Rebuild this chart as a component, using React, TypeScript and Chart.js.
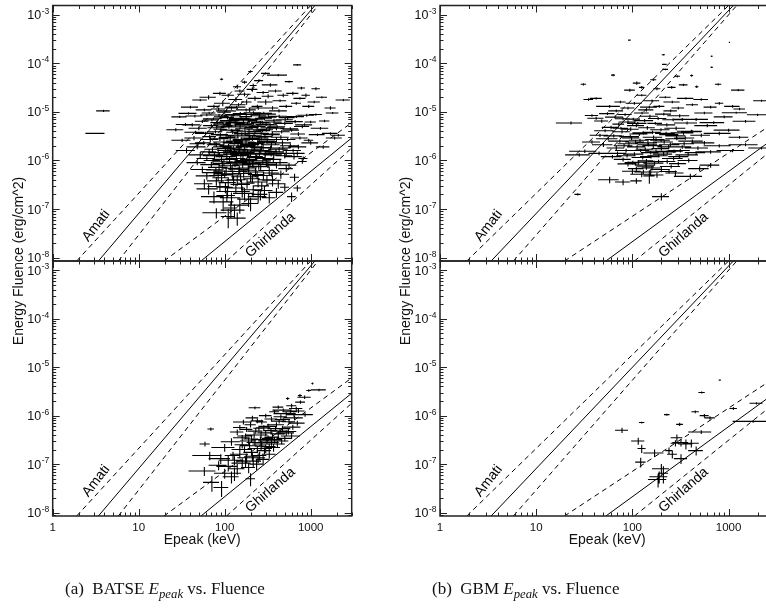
import React, { useEffect, useRef } from 'react';
import { Chart, registerables } from 'chart.js';
Chart.register(...registerables);

// ---------- axes ----------
const X_MIN = 1;
const X_MAX = 3000;
const Y_MIN = 8.5e-9;
const Y_MAX = 1.55e-3;
const xMajorTicks = [1, 10, 100, 1000];
const xTickLabels = ['1', '10', '100', '1000'];
const yMajorTicks = [1e-8, 1e-7, 1e-6, 1e-5, 1e-4, 1e-3];
const yTickExponents = ['-8', '-7', '-6', '-5', '-4', '-3'];

// ---------- relation lines (endpoints) ----------
const amatiUpper = [[1.9, 8.5e-9], [1000, 1.55e-3]];
const amatiCenter = [[3.4, 8.5e-9], [1120, 1.55e-3]];
const amatiLower = [[5.8, 8.5e-9], [1215, 1.55e-3]];
const ghirlandaUpper = [[19.7, 8.5e-9], [3000, 6.0e-6]];
const ghirlandaCenter = [[53, 8.5e-9], [3000, 2.9e-6]];
const ghirlandaLower = [[105, 8.5e-9], [3000, 1.8e-6]];
const relationLabels = [
  { text: 'Amati', x: 3.2, y: 4.5e-8, angle: 52 },
  { text: 'Ghirlanda', x: 340, y: 2.9e-8, angle: 41 },
];

// ---------- data: [Epeak keV, ±dE, Fluence erg/cm^2, ±dF] ----------
const batseLong = [
  [3.9, 0.7, 1.05e-5, 5e-7], [3.2, 0.8, 3.6e-6, 1e-7],
  [92, 4, 4.7e-5, 2e-6], [200, 12, 6.8e-5, 4e-6], [420, 110, 5.7e-5, 3e-6], [700, 75, 9.3e-5, 4e-6],
  [300, 35, 6.2e-5, 3e-6], [250, 30, 4.4e-5, 3e-6], [170, 12, 4.1e-5, 3e-6], [560, 60, 4.2e-5, 2e-6],
  [340, 70, 3.6e-5, 3e-6], [780, 80, 3.1e-5, 2e-6], [140, 15, 3.3e-5, 3e-6], [1150, 130, 3.0e-5, 2e-6],
  [215, 20, 3.5e-5, 3e-6],
  [65, 14, 2.0e-5, 2e-6], [52, 10, 1.75e-5, 1e-6], [75, 12, 1.3e-5, 1e-6], [88, 15, 2.4e-5, 2e-6],
  [95, 20, 1.5e-5, 2e-6], [110, 18, 2.2e-5, 2e-6], [120, 20, 1.2e-5, 1e-6], [135, 25, 1.8e-5, 2e-6],
  [150, 20, 2.7e-5, 2e-6], [145, 30, 1.4e-5, 1e-6], [170, 30, 2.3e-5, 2e-6], [180, 25, 1.6e-5, 2e-6],
  [195, 35, 1.1e-5, 1e-6], [210, 30, 2.9e-5, 3e-6], [225, 40, 1.9e-5, 2e-6], [240, 35, 1.3e-5, 1e-6],
  [280, 45, 2.5e-5, 2e-6], [300, 60, 1.6e-5, 2e-6], [320, 50, 2.1e-5, 2e-6], [360, 60, 1.2e-5, 1e-6],
  [390, 70, 2.7e-5, 2e-6], [440, 80, 1.7e-5, 1e-6], [480, 70, 2.2e-5, 2e-6], [520, 90, 1.3e-5, 1e-6],
  [620, 100, 2.4e-5, 2e-6], [680, 90, 1.5e-5, 1e-6], [750, 120, 1.9e-5, 1e-6], [880, 100, 2.2e-5, 2e-6],
  [950, 150, 1.3e-5, 1e-6], [1350, 200, 2.0e-5, 1e-6], [2400, 450, 1.75e-5, 1e-6], [1700, 250, 1.2e-5, 1e-6],
  [1100, 180, 1.6e-5, 1e-6],
  [30, 6, 7.9e-6, 4e-7], [27, 6, 4.3e-6, 3e-7], [38, 9, 9.3e-6, 5e-7], [35, 8, 5.5e-6, 4e-7],
  [45, 10, 8.2e-6, 5e-7], [50, 12, 4.6e-6, 4e-7], [55, 10, 6.4e-6, 5e-7], [60, 15, 3.6e-6, 3e-7],
  [66, 12, 9.5e-6, 6e-7], [70, 14, 5.2e-6, 4e-7], [74, 18, 7.2e-6, 5e-7], [78, 16, 3.9e-6, 3e-7],
  [82, 14, 6.0e-6, 5e-7], [86, 20, 8.6e-6, 6e-7], [90, 16, 4.4e-6, 4e-7], [96, 22, 5.6e-6, 5e-7],
  [100, 18, 9.8e-6, 7e-7], [104, 25, 3.3e-6, 3e-7], [108, 20, 7.6e-6, 6e-7], [112, 22, 4.9e-6, 4e-7],
  [118, 30, 6.6e-6, 5e-7], [124, 20, 3.8e-6, 3e-7], [128, 26, 8.8e-6, 7e-7], [134, 30, 5.3e-6, 4e-7],
  [140, 24, 4.1e-6, 4e-7], [146, 35, 7.0e-6, 6e-7], [152, 28, 9.2e-6, 7e-7], [158, 30, 3.5e-6, 3e-7],
  [165, 32, 6.1e-6, 5e-7], [172, 40, 4.5e-6, 4e-7], [178, 30, 8.0e-6, 6e-7], [185, 36, 5.7e-6, 5e-7],
  [192, 40, 3.2e-6, 3e-7], [200, 45, 6.9e-6, 5e-7], [208, 38, 4.8e-6, 4e-7], [216, 50, 9.6e-6, 7e-7],
  [225, 42, 3.9e-6, 3e-7], [234, 48, 6.4e-6, 5e-7], [244, 55, 5.0e-6, 4e-7], [255, 50, 8.3e-6, 6e-7],
  [266, 60, 3.6e-6, 3e-7], [278, 55, 5.9e-6, 5e-7], [290, 65, 7.4e-6, 6e-7], [305, 60, 4.3e-6, 4e-7],
  [320, 75, 9.0e-6, 7e-7], [338, 70, 5.4e-6, 4e-7], [355, 80, 3.4e-6, 3e-7], [375, 85, 6.7e-6, 5e-7],
  [400, 90, 4.6e-6, 4e-7], [430, 100, 8.1e-6, 6e-7], [460, 110, 3.9e-6, 3e-7], [500, 120, 5.8e-6, 5e-7],
  [540, 110, 7.6e-6, 6e-7], [600, 130, 4.2e-6, 3e-7], [660, 150, 6.3e-6, 5e-7], [720, 140, 3.5e-6, 3e-7],
  [800, 160, 5.0e-6, 4e-7], [900, 200, 8.5e-6, 6e-7], [1200, 250, 3.4e-6, 2e-7], [1700, 350, 3.6e-6, 2e-7],
  [1450, 200, 6.5e-6, 4e-7],
  [32, 8, 2.6e-6, 2e-7], [36, 9, 1.6e-6, 2e-7], [44, 10, 2.9e-6, 3e-7], [48, 12, 1.9e-6, 2e-7],
  [52, 14, 1.3e-6, 2e-7], [57, 12, 2.3e-6, 2e-7], [62, 15, 1.1e-6, 1e-7], [68, 16, 2.7e-6, 3e-7],
  [72, 14, 1.7e-6, 2e-7], [76, 20, 1.25e-6, 1.5e-7], [80, 18, 2.1e-6, 2e-7], [84, 20, 1.45e-6, 2e-7],
  [88, 22, 2.8e-6, 3e-7], [92, 18, 1.05e-6, 1.5e-7], [98, 25, 2.4e-6, 3e-7], [102, 20, 1.6e-6, 2e-7],
  [106, 28, 1.2e-6, 2e-7], [111, 24, 2.0e-6, 2e-7], [116, 30, 2.9e-6, 3e-7], [121, 25, 1.35e-6, 2e-7],
  [126, 32, 1.8e-6, 2e-7], [131, 28, 2.5e-6, 3e-7], [137, 35, 1.1e-6, 1.5e-7], [143, 30, 2.2e-6, 3e-7],
  [149, 38, 1.55e-6, 2e-7], [156, 32, 2.7e-6, 3e-7], [163, 40, 1.25e-6, 2e-7], [170, 35, 1.9e-6, 2e-7],
  [177, 45, 2.4e-6, 3e-7], [185, 38, 1.45e-6, 2e-7], [193, 42, 1.05e-6, 1.5e-7], [201, 50, 2.1e-6, 3e-7],
  [210, 45, 2.8e-6, 3e-7], [220, 52, 1.65e-6, 2e-7], [230, 48, 1.2e-6, 2e-7], [241, 55, 2.3e-6, 3e-7],
  [253, 60, 1.4e-6, 2e-7], [266, 58, 2.9e-6, 3e-7], [280, 65, 1.85e-6, 2e-7], [295, 70, 1.1e-6, 1.5e-7],
  [312, 72, 2.5e-6, 3e-7], [330, 80, 1.55e-6, 2e-7], [350, 85, 2.1e-6, 3e-7], [372, 90, 1.3e-6, 2e-7],
  [400, 100, 2.7e-6, 3e-7], [430, 110, 1.7e-6, 2e-7], [470, 120, 2.3e-6, 3e-7], [520, 130, 1.4e-6, 2e-7],
  [580, 140, 2.0e-6, 2e-7], [640, 150, 1.2e-6, 1.5e-7], [720, 170, 1.9e-6, 2e-7], [820, 100, 1.1e-6, 1e-7],
  [950, 120, 2.6e-6, 2e-7],
  [48, 12, 9.0e-7, 1e-7], [55, 15, 6.5e-7, 1e-7], [62, 16, 4.8e-7, 8e-8], [70, 18, 8.2e-7, 1.2e-7],
  [75, 20, 5.6e-7, 1e-7], [80, 18, 3.8e-7, 8e-8], [86, 22, 7.2e-7, 1.2e-7], [92, 20, 4.4e-7, 1e-7],
  [98, 25, 9.4e-7, 1.5e-7], [104, 28, 6.0e-7, 1.2e-7], [110, 25, 3.5e-7, 8e-8], [117, 30, 7.8e-7, 1.5e-7],
  [124, 32, 5.0e-7, 1e-7], [132, 30, 8.8e-7, 1.5e-7], [140, 35, 4.0e-7, 1e-7], [148, 38, 6.6e-7, 1.2e-7],
  [157, 40, 3.2e-7, 8e-8], [166, 42, 5.4e-7, 1e-7], [176, 45, 9.6e-7, 1.5e-7], [188, 48, 7.0e-7, 1.2e-7],
  [200, 50, 4.6e-7, 1e-7], [214, 55, 8.4e-7, 1.5e-7], [228, 60, 5.8e-7, 1.2e-7], [245, 62, 3.6e-7, 8e-8],
  [262, 70, 7.4e-7, 1.2e-7], [282, 75, 4.9e-7, 1e-7], [305, 80, 9.0e-7, 1.5e-7], [330, 85, 6.2e-7, 1.2e-7],
  [360, 90, 3.9e-7, 1e-7], [400, 100, 8.0e-7, 1.2e-7], [450, 110, 5.2e-7, 1e-7], [520, 100, 6.8e-7, 1e-7],
  [800, 100, 9.5e-7, 1e-7], [650, 80, 4.5e-7, 8e-8],
  [65, 18, 2.6e-7, 6e-8], [75, 22, 1.8e-7, 5e-8], [88, 25, 2.9e-7, 6e-8], [96, 30, 1.4e-7, 5e-8],
  [108, 28, 2.3e-7, 6e-8], [120, 32, 1.7e-7, 5e-8], [135, 35, 2.7e-7, 6e-8], [150, 40, 1.2e-7, 4e-8],
  [170, 45, 2.1e-7, 6e-8], [190, 50, 1.6e-7, 5e-8], [215, 55, 2.5e-7, 6e-8], [245, 60, 1.8e-7, 5e-8],
  [290, 70, 2.4e-7, 6e-8], [330, 60, 1.7e-7, 4e-8], [118, 20, 1.05e-7, 4e-8],
  [80, 25, 8.4e-8, 2e-8], [110, 20, 7.0e-8, 3e-8], [130, 40, 9.5e-8, 3e-8], [140, 35, 6.5e-8, 2e-8],
  [62, 10, 8.6e-6, 5e-7], [67, 12, 3.1e-6, 3e-7], [71, 15, 6.8e-6, 5e-7], [77, 12, 2.2e-6, 2e-7],
  [81, 18, 4.7e-6, 4e-7], [85, 16, 1.15e-5, 8e-7], [89, 20, 3.4e-6, 3e-7], [93, 18, 7.9e-6, 6e-7],
  [97, 24, 1.9e-6, 2e-7], [101, 22, 5.1e-6, 4e-7], [105, 26, 1.05e-5, 8e-7], [109, 24, 3.0e-6, 3e-7],
  [113, 28, 6.2e-6, 5e-7], [117, 22, 1.5e-6, 2e-7], [121, 30, 4.2e-6, 3e-7], [125, 28, 8.3e-6, 6e-7],
  [129, 34, 2.3e-6, 2e-7], [133, 30, 5.9e-6, 5e-7], [138, 36, 1.25e-5, 9e-7], [142, 32, 3.2e-6, 3e-7],
  [147, 38, 1.7e-6, 2e-7], [151, 34, 4.9e-6, 4e-7], [155, 40, 7.4e-6, 6e-7], [160, 36, 2.6e-6, 2e-7],
  [164, 42, 1.4e-6, 2e-7], [168, 38, 5.6e-6, 4e-7], [173, 44, 3.6e-6, 3e-7], [178, 40, 1.1e-5, 8e-7],
  [182, 46, 2.0e-6, 2e-7], [187, 42, 6.7e-6, 5e-7], [192, 50, 4.0e-6, 3e-7], [197, 44, 2.9e-6, 3e-7],
  [203, 52, 8.9e-6, 7e-7], [208, 48, 1.55e-6, 2e-7], [214, 54, 5.3e-6, 4e-7], [220, 50, 3.3e-6, 3e-7],
  [226, 58, 2.2e-6, 2e-7], [232, 52, 7.1e-6, 5e-7], [238, 60, 4.4e-6, 4e-7], [246, 56, 1.2e-5, 9e-7],
  [252, 64, 2.7e-6, 3e-7], [260, 58, 6.0e-6, 5e-7], [268, 66, 1.8e-6, 2e-7], [276, 62, 4.1e-6, 3e-7],
  [285, 70, 9.4e-6, 7e-7], [294, 66, 3.1e-6, 3e-7], [303, 74, 5.5e-6, 4e-7], [313, 70, 2.4e-6, 2e-7],
  [324, 78, 7.8e-6, 6e-7], [335, 74, 4.7e-6, 4e-7], [347, 82, 1.4e-6, 2e-7], [360, 78, 3.5e-6, 3e-7],
  [374, 86, 6.2e-6, 5e-7], [390, 90, 2.3e-6, 2e-7], [408, 96, 4.9e-6, 4e-7], [428, 100, 1.05e-5, 8e-7],
  [450, 105, 3.0e-6, 3e-7], [475, 110, 1.8e-6, 2e-7], [505, 115, 6.9e-6, 5e-7], [540, 125, 2.7e-6, 2e-7],
  [580, 135, 4.5e-6, 3e-7], [625, 145, 1.6e-6, 1.5e-7], [680, 155, 8.0e-6, 5e-7], [750, 170, 2.9e-6, 2e-7],
  [850, 190, 5.4e-6, 4e-7], [1000, 220, 2.3e-6, 2e-7], [1300, 300, 4.6e-6, 3e-7], [1900, 400, 2.9e-6, 2e-7],
  [66, 14, 1.5e-6, 2e-7], [73, 16, 1.0e-6, 1.2e-7], [79, 18, 6.4e-7, 1e-7], [87, 20, 1.3e-6, 1.5e-7],
  [94, 22, 8.6e-7, 1.2e-7], [100, 24, 5.3e-7, 1e-7], [107, 26, 1.75e-6, 2e-7], [114, 28, 1.05e-6, 1.4e-7],
  [122, 30, 6.9e-7, 1.2e-7], [130, 32, 1.45e-6, 2e-7], [139, 34, 9.3e-7, 1.4e-7], [146, 36, 5.9e-7, 1e-7],
  [154, 38, 1.3e-6, 1.6e-7], [162, 40, 8.1e-7, 1.3e-7], [171, 42, 1.65e-6, 2e-7], [181, 44, 1.0e-6, 1.4e-7],
  [191, 46, 6.3e-7, 1.1e-7], [199, 48, 1.35e-6, 1.8e-7], [211, 50, 8.9e-7, 1.3e-7], [223, 52, 1.9e-6, 2e-7],
  [236, 56, 1.15e-6, 1.5e-7], [249, 60, 7.6e-7, 1.2e-7], [263, 62, 1.6e-6, 2e-7], [278, 66, 9.8e-7, 1.4e-7],
  [296, 70, 1.35e-6, 1.8e-7], [318, 76, 8.3e-7, 1.3e-7], [342, 82, 1.8e-6, 2e-7], [368, 88, 1.05e-6, 1.4e-7],
  [395, 94, 1.5e-6, 2e-7], [440, 100, 9.0e-7, 1.2e-7], [500, 110, 1.25e-6, 1.5e-7], [560, 120, 8.0e-7, 1e-7],
  [700, 150, 1.4e-6, 1.5e-7],
  [58, 14, 3.3e-7, 8e-8], [84, 18, 4.9e-7, 1e-7], [102, 22, 2.8e-7, 7e-8], [127, 28, 3.9e-7, 9e-8],
  [153, 34, 4.6e-7, 1e-7], [182, 40, 3.4e-7, 8e-8], [210, 46, 4.2e-7, 9e-8], [238, 52, 5.1e-7, 1e-7],
  [270, 58, 3.0e-7, 7e-8], [310, 66, 4.0e-7, 9e-8], [355, 76, 5.5e-7, 1e-7], [420, 90, 3.3e-7, 7e-8],
  [106, 26, 1.9e-7, 5e-8], [160, 36, 2.3e-7, 6e-8], [200, 44, 1.3e-7, 4e-8], [260, 54, 2.0e-7, 5e-8],
  [400, 80, 2.2e-7, 5e-8], [500, 60, 2.8e-7, 5e-8], [600, 70, 1.8e-7, 4e-8], [700, 70, 2.7e-7, 4e-8],
  [42, 10, 5.4e-6, 4e-7], [46, 12, 3.8e-6, 3e-7], [40, 9, 1.25e-5, 8e-7], [58, 12, 1.1e-5, 7e-7],
  [49, 10, 2.2e-6, 2e-7], [2100, 400, 3.3e-6, 2e-7], [1800, 300, 9.5e-6, 5e-7], [1400, 250, 1.9e-6, 1.5e-7],
  [1150, 200, 8.8e-6, 5e-7], [1000, 150, 6.2e-6, 4e-7],
];

const batseShort = [
  [1050, 30, 4.6e-6, 2e-7], [1250, 250, 3.4e-6, 2e-7], [950, 60, 3.3e-6, 2e-7], [750, 40, 2.6e-6, 2e-7],
  [540, 25, 2.25e-6, 1.5e-7], [860, 200, 1.05e-6, 1e-7], [480, 120, 1.3e-6, 1e-7], [225, 35, 1.45e-6, 1e-7],
  [600, 80, 1.6e-6, 1.5e-7], [680, 120, 1.4e-6, 1.2e-7], [420, 60, 1.5e-6, 1.2e-7], [380, 50, 1.2e-6, 1.2e-7],
  [520, 150, 1.1e-6, 1e-7], [650, 160, 9.0e-7, 1e-7], [560, 100, 7.5e-7, 8e-8], [450, 80, 9.5e-7, 1e-7],
  [350, 60, 8.5e-7, 1e-7], [300, 50, 1.0e-6, 1e-7], [270, 40, 7.4e-7, 8e-8], [165, 40, 7.4e-7, 8e-8],
  [200, 30, 6.5e-7, 8e-8], [250, 35, 5.5e-7, 7e-8], [320, 70, 6.0e-7, 8e-8], [400, 90, 6.5e-7, 8e-8],
  [470, 110, 5.4e-7, 7e-8], [550, 130, 4.7e-7, 6e-8], [600, 150, 3.8e-7, 5e-8], [500, 100, 3.4e-7, 5e-8],
  [420, 80, 4.2e-7, 6e-8], [360, 70, 3.6e-7, 5e-8], [300, 60, 4.4e-7, 6e-8], [260, 55, 3.2e-7, 5e-8],
  [220, 45, 4.0e-7, 6e-8], [190, 40, 3.0e-7, 5e-8], [160, 35, 3.5e-7, 5e-8], [69, 6, 5.3e-7, 4e-8],
  [59, 8, 2.6e-7, 3e-8], [67, 25, 1.5e-7, 3e-8], [58, 20, 7.2e-8, 1.5e-8], [71, 15, 4.2e-8, 1.5e-8],
  [92, 18, 3.3e-8, 1.2e-8], [100, 25, 6.5e-8, 1.5e-8], [110, 30, 9.0e-8, 2e-8], [120, 25, 5.5e-8, 1.5e-8],
  [130, 35, 1.2e-7, 2.5e-8], [140, 30, 8.0e-8, 2e-8], [150, 35, 1.6e-7, 3e-8], [160, 40, 1.05e-7, 2.5e-8],
  [170, 35, 2.0e-7, 3e-8], [180, 40, 1.35e-7, 3e-8], [195, 45, 2.4e-7, 4e-8], [205, 40, 1.75e-7, 3e-8],
  [215, 50, 1.15e-7, 3e-8], [225, 45, 2.8e-7, 4e-8], [240, 55, 2.1e-7, 3e-8], [255, 50, 1.5e-7, 3e-8],
  [270, 60, 2.6e-7, 4e-8], [290, 55, 1.9e-7, 3e-8], [310, 65, 3.0e-7, 4e-8], [330, 60, 2.3e-7, 4e-8],
  [350, 75, 2.8e-7, 4e-8], [380, 80, 3.2e-7, 5e-8], [410, 90, 2.6e-7, 4e-8], [440, 100, 4.8e-7, 6e-8],
  [520, 120, 4.4e-7, 6e-8], [620, 140, 5.8e-7, 7e-8], [700, 150, 7.0e-7, 8e-8], [180, 30, 5.2e-7, 6e-8],
  [210, 35, 9.0e-7, 1e-7], [240, 40, 7.8e-7, 8e-8], [140, 25, 4.6e-7, 6e-8], [120, 30, 2.9e-7, 5e-8],
  [100, 30, 2.2e-7, 4e-8], [90, 25, 1.3e-7, 3e-8], [85, 20, 9.5e-8, 2e-8], [130, 25, 6.5e-8, 2e-8],
  [190, 35, 8.5e-8, 2e-8], [235, 40, 1.0e-7, 2.5e-8], [280, 50, 1.25e-7, 3e-8], [330, 60, 1.6e-7, 3e-8],
  [200, 25, 5.0e-8, 1.5e-8], [760, 100, 1.9e-6, 1.5e-7], [850, 150, 2.4e-6, 2e-7],
  [160, 30, 2.5e-7, 4e-8], [175, 35, 3.8e-7, 5e-8], [205, 40, 3.3e-7, 5e-8], [230, 45, 4.8e-7, 6e-8],
  [265, 50, 4.0e-7, 6e-8], [285, 55, 5.6e-7, 7e-8], [345, 65, 4.9e-7, 6e-8], [390, 75, 5.4e-7, 7e-8],
  [430, 85, 7.7e-7, 8e-8], [480, 95, 8.3e-7, 9e-8], [580, 110, 1.2e-6, 1.2e-7], [640, 120, 1.05e-6, 1e-7],
  [720, 130, 1.25e-6, 1.2e-7], [150, 30, 2.0e-7, 4e-8], [125, 25, 1.5e-7, 3e-8], [110, 25, 1.2e-7, 3e-8],
  [175, 40, 1.15e-7, 3e-8], [245, 50, 1.35e-7, 3e-8], [300, 55, 2.1e-7, 4e-8], [370, 70, 2.2e-7, 4e-8],
  [460, 90, 3.0e-7, 5e-8], [210, 30, 1.45e-7, 3e-8], [265, 40, 2.35e-7, 4e-8], [320, 50, 3.4e-7, 5e-8],
  [150, 25, 5.7e-7, 7e-8],
];

const gbmLong = [
  [93, 3, 3.0e-4, 5e-6], [1020, 15, 2.7e-4, 5e-6], [210, 8, 1.5e-4, 6e-6], [667, 15, 1.4e-4, 5e-6],
  [667, 20, 8.3e-5, 3e-6], [63, 3, 5.7e-5, 3e-6], [31, 2, 3.7e-5, 2e-6], [215, 12, 9.5e-5, 3e-6],
  [220, 15, 7.5e-5, 3e-6], [293, 20, 5.4e-5, 3e-6], [413, 15, 5.6e-5, 3e-6], [466, 20, 3.3e-5, 2e-6],
  [165, 12, 4.6e-5, 3e-6], [111, 10, 3.9e-5, 3e-6], [94, 12, 2.8e-5, 2e-6], [256, 25, 3.2e-5, 2e-6],
  [339, 35, 3.6e-5, 2e-6], [1260, 200, 2.8e-5, 1.5e-6], [780, 60, 3.7e-5, 2e-6], [125, 8, 3.2e-5, 2e-6],
  [180, 15, 3.0e-5, 2e-6],
  [35, 4, 1.8e-5, 1e-6], [42, 6, 1.9e-5, 1e-6], [58, 16, 1.3e-5, 8e-7], [75, 10, 1.6e-5, 1e-6],
  [90, 15, 1.2e-5, 8e-7], [105, 20, 1.5e-5, 1e-6], [125, 15, 2.2e-5, 1e-6], [140, 25, 1.1e-5, 8e-7],
  [160, 30, 1.7e-5, 1e-6], [190, 25, 1.3e-5, 8e-7], [220, 30, 2.0e-5, 1e-6], [260, 50, 1.6e-5, 1e-6],
  [300, 45, 1.2e-5, 8e-7], [360, 70, 1.9e-5, 1e-6], [420, 60, 1.4e-5, 8e-7], [520, 90, 1.8e-5, 1e-6],
  [650, 100, 1.25e-5, 8e-7], [800, 80, 1.5e-5, 1e-6], [1100, 200, 1.3e-5, 8e-7], [1300, 180, 1.15e-5, 7e-7],
  [2000, 450, 8.7e-6, 5e-7], [2200, 400, 1.7e-5, 8e-7],
  [23, 7, 5.9e-6, 4e-7], [42, 8, 7.4e-6, 5e-7], [38, 6, 8.4e-6, 5e-7], [48, 8, 6.5e-6, 5e-7],
  [55, 10, 9.2e-6, 6e-7], [60, 12, 4.8e-6, 4e-7], [66, 14, 7.8e-6, 5e-7], [72, 10, 5.6e-6, 4e-7],
  [78, 16, 3.9e-6, 3e-7], [84, 14, 8.8e-6, 6e-7], [90, 18, 6.2e-6, 5e-7], [96, 20, 4.4e-6, 4e-7],
  [102, 18, 7.1e-6, 5e-7], [110, 22, 5.2e-6, 4e-7], [118, 25, 3.5e-6, 3e-7], [126, 22, 9.5e-6, 6e-7],
  [134, 30, 6.6e-6, 5e-7], [143, 28, 4.7e-6, 4e-7], [152, 32, 8.1e-6, 6e-7], [162, 35, 3.8e-6, 3e-7],
  [173, 30, 5.8e-6, 4e-7], [185, 40, 7.3e-6, 5e-7], [198, 45, 4.3e-6, 3e-7], [212, 40, 9.0e-6, 6e-7],
  [228, 50, 5.4e-6, 4e-7], [245, 55, 3.4e-6, 3e-7], [265, 60, 6.9e-6, 5e-7], [285, 70, 4.6e-6, 4e-7],
  [310, 80, 8.3e-6, 6e-7], [340, 90, 3.7e-6, 3e-7], [370, 100, 5.9e-6, 4e-7], [410, 120, 4.0e-6, 3e-7],
  [460, 150, 7.0e-6, 5e-7], [520, 120, 3.3e-6, 3e-7], [600, 160, 5.2e-6, 4e-7], [700, 200, 6.0e-6, 4e-7],
  [800, 250, 3.6e-6, 3e-7], [1000, 300, 4.2e-6, 3e-7], [1200, 350, 9.6e-6, 5e-7], [1500, 400, 6.4e-6, 4e-7],
  [28, 8, 1.3e-6, 1e-7], [32, 10, 1.55e-6, 1.2e-7], [38, 8, 2.4e-6, 2e-7], [45, 10, 1.4e-6, 1.2e-7],
  [50, 12, 2.1e-6, 2e-7], [56, 14, 2.8e-6, 2e-7], [62, 15, 1.2e-6, 1e-7], [68, 14, 1.8e-6, 1.5e-7],
  [74, 18, 2.5e-6, 2e-7], [80, 16, 1.05e-6, 1e-7], [86, 20, 1.6e-6, 1.5e-7], [92, 22, 2.2e-6, 2e-7],
  [98, 20, 2.9e-6, 2.5e-7], [105, 25, 1.35e-6, 1.2e-7], [112, 24, 1.9e-6, 1.5e-7], [120, 28, 2.6e-6, 2e-7],
  [128, 30, 1.15e-6, 1e-7], [136, 28, 1.7e-6, 1.5e-7], [145, 35, 2.3e-6, 2e-7], [155, 32, 1.45e-6, 1.2e-7],
  [165, 38, 2.0e-6, 2e-7], [176, 40, 2.7e-6, 2e-7], [188, 45, 1.25e-6, 1e-7], [200, 42, 1.75e-6, 1.5e-7],
  [214, 50, 2.4e-6, 2e-7], [230, 55, 1.5e-6, 1.2e-7], [248, 60, 2.1e-6, 2e-7], [268, 65, 1.1e-6, 1e-7],
  [290, 70, 2.8e-6, 2e-7], [315, 80, 1.6e-6, 1.5e-7], [345, 90, 2.2e-6, 2e-7], [380, 100, 1.3e-6, 1e-7],
  [420, 120, 2.5e-6, 2e-7], [480, 130, 1.8e-6, 1.5e-7], [560, 150, 2.3e-6, 2e-7], [650, 180, 1.5e-6, 1.2e-7],
  [800, 250, 2.0e-6, 1.5e-7], [1100, 350, 1.6e-6, 1.2e-7], [1500, 500, 2.1e-6, 1.5e-7], [2200, 600, 1.8e-6, 1.2e-7],
  [80, 14, 3.6e-7, 5e-8], [58, 14, 4.0e-7, 6e-8], [90, 20, 8.5e-7, 1e-7], [100, 22, 6.0e-7, 8e-8],
  [115, 25, 9.2e-7, 1e-7], [125, 30, 5.2e-7, 7e-8], [140, 28, 7.4e-7, 1e-7], [155, 35, 5.8e-7, 8e-8],
  [170, 40, 8.8e-7, 1e-7], [150, 20, 4.8e-7, 1.5e-7], [200, 45, 6.5e-7, 8e-8], [230, 50, 9.5e-7, 1e-7],
  [280, 60, 5.5e-7, 7e-8], [400, 130, 4.7e-7, 6e-8], [500, 120, 6.8e-7, 8e-8], [650, 150, 8.0e-7, 9e-8],
  [200, 40, 1.8e-7, 3e-8], [27, 2, 2.0e-7, 1e-8], [110, 15, 3.8e-7, 5e-8],
  [64, 14, 3.2e-6, 2.5e-7], [70, 16, 1.4e-6, 1.2e-7], [76, 14, 4.6e-6, 3e-7], [82, 18, 2.0e-6, 1.5e-7],
  [88, 20, 1.25e-6, 1e-7], [95, 22, 3.1e-6, 2.5e-7], [101, 18, 9.0e-7, 8e-8], [108, 24, 2.4e-6, 2e-7],
  [114, 26, 5.8e-6, 4e-7], [122, 28, 1.6e-6, 1.2e-7], [130, 30, 3.7e-6, 3e-7], [138, 32, 8.0e-7, 8e-8],
  [147, 34, 2.1e-6, 1.6e-7], [156, 36, 1.2e-6, 1e-7], [166, 38, 3.0e-6, 2.5e-7], [176, 40, 1.55e-6, 1.2e-7],
  [187, 44, 9.5e-7, 8e-8], [199, 46, 2.6e-6, 2e-7], [211, 48, 1.35e-6, 1.1e-7], [224, 52, 3.6e-6, 3e-7],
  [238, 56, 1.9e-6, 1.5e-7], [253, 60, 7.5e-7, 7e-8], [270, 64, 1.55e-6, 1.2e-7], [288, 68, 3.2e-6, 2.5e-7],
  [308, 72, 1.2e-6, 1e-7], [330, 78, 1.9e-6, 1.5e-7], [355, 84, 2.9e-6, 2.2e-7], [385, 90, 1.0e-6, 9e-8],
  [420, 100, 3.9e-6, 3e-7], [460, 110, 1.45e-6, 1.2e-7], [110, 20, 6.8e-7, 7e-8], [130, 25, 5.8e-7, 6e-8],
  [160, 35, 7.0e-7, 7e-8], [180, 30, 5.0e-7, 6e-8], [140, 25, 9.8e-7, 9e-8], [240, 50, 5.9e-7, 6e-8],
  [300, 60, 8.6e-7, 8e-8], [46, 10, 3.3e-6, 2.5e-7], [52, 12, 4.1e-6, 3e-7], [68, 12, 1.05e-5, 7e-7],
  [80, 14, 7.2e-6, 5e-7], [150, 30, 1.25e-5, 8e-7], [250, 40, 1.05e-5, 7e-7], [330, 60, 7.0e-6, 5e-7],
  [560, 120, 9.5e-6, 6e-7], [900, 200, 7.9e-6, 5e-7], [1300, 300, 3.0e-6, 2e-7],
];

const gbmShort = [
  [810, 20, 5.4e-6, 1e-7], [525, 40, 3.0e-6, 1.5e-7], [1950, 300, 1.8e-6, 1e-7], [1120, 100, 1.4e-6, 1e-7],
  [1800, 700, 7.6e-7, 5e-8], [450, 40, 1.2e-6, 8e-8], [560, 60, 1.0e-6, 8e-8], [640, 80, 9.0e-7, 7e-8],
  [228, 15, 1.05e-6, 5e-8], [125, 8, 7.2e-7, 3e-8], [78, 12, 5.0e-7, 6e-8], [310, 25, 6.6e-7, 5e-8],
  [520, 140, 4.6e-7, 4e-8], [115, 18, 3.0e-7, 5e-8], [290, 40, 3.5e-7, 6e-8], [320, 60, 2.8e-7, 5e-8],
  [360, 60, 2.6e-7, 6e-8], [410, 80, 2.7e-7, 5e-8], [280, 30, 2.7e-7, 4e-8], [125, 12, 2.1e-7, 4e-8],
  [170, 40, 1.7e-7, 3e-8], [240, 20, 1.9e-7, 3e-8], [460, 80, 1.9e-7, 4e-8], [260, 30, 1.6e-7, 3e-8],
  [320, 50, 1.3e-7, 3e-8], [122, 15, 1.1e-7, 2.5e-8], [200, 40, 8.0e-8, 2e-8], [190, 40, 5.5e-8, 1.5e-8],
  [185, 40, 4.8e-8, 1.5e-8], [210, 25, 6.5e-8, 2.5e-8],
];

// ---------- layout ----------
const CANVAS_W = 800;
const CANVAS_H = 608;
const FONT = '"Liberation Sans", Arial, Helvetica, sans-serif';

const panels = [
  { key: 'a-top', left: 52.7, right: 351.7, top: 5.5, bottom: 261, data: batseLong, xLabels: false, yTitle: true },
  { key: 'a-bot', left: 52.7, right: 351.7, top: 261, bottom: 516, data: batseShort, xLabels: true, yTitle: false },
  { key: 'b-top', left: 440, right: 774.5, top: 5.5, bottom: 261, data: gbmLong, xLabels: false, yTitle: true },
  { key: 'b-bot', left: 440, right: 774.5, top: 261, bottom: 516, data: gbmShort, xLabels: true, yTitle: false },
];

function errorBarData(points: number[][]) {
  const d: any[] = [];
  for (const [e, de, f, df] of points) {
    d.push({ x: Math.max(e - de, e * 0.05), y: f }, { x: e + de, y: f }, { x: e, y: null });
    d.push({ x: e, y: Math.max(f - df, f * 0.05) }, { x: e, y: f + df }, { x: e, y: null });
  }
  return d;
}

function lineDataset(pts: number[][], dashed: boolean) {
  return {
    data: pts.map(([x, y]) => ({ x, y })),
    showLine: true,
    borderColor: '#000',
    borderWidth: 1,
    borderDash: dashed ? [5, 4] : [],
    pointRadius: 0,
    fill: false,
  };
}

const decorPlugin = {
  id: 'decor',
  afterDatasetsDraw(chart: any) {
    const o = chart.options.plugins.decor;
    const { ctx, chartArea: a } = chart;
    const xs = chart.scales.x;
    const ys = chart.scales.y;
    ctx.save();
    // relation labels
    ctx.fillStyle = '#000';
    ctx.font = `14px ${FONT}`;
    ctx.textAlign = 'center';
    ctx.textBaseline = 'middle';
    for (const lab of relationLabels) {
      const px = xs.getPixelForValue(lab.x);
      const py = ys.getPixelForValue(lab.y);
      ctx.save();
      ctx.translate(px, py);
      ctx.rotate((-lab.angle * Math.PI) / 180);
      ctx.fillText(lab.text, 0, 0);
      ctx.restore();
    }
    // ticks
    ctx.strokeStyle = '#222';
    ctx.lineWidth = 1;
    ctx.beginPath();
    for (let d = 0; d <= 3; d++) {
      for (let m = 1; m <= 9; m++) {
        const v = m * Math.pow(10, d);
        if (v < X_MIN || v > X_MAX) continue;
        const px = Math.round(xs.getPixelForValue(v)) + 0.5;
        const len = m === 1 ? 7 : 3.5;
        ctx.moveTo(px, a.bottom);
        ctx.lineTo(px, a.bottom - len);
        ctx.moveTo(px, a.top);
        ctx.lineTo(px, a.top + len);
      }
    }
    for (let d = -9; d <= -3; d++) {
      for (let m = 1; m <= 9; m++) {
        const v = m * Math.pow(10, d);
        if (v < Y_MIN || v > Y_MAX) continue;
        const py = Math.round(ys.getPixelForValue(v)) + 0.5;
        const len = m === 1 ? 7 : 3.5;
        ctx.moveTo(a.left, py);
        ctx.lineTo(a.left + len, py);
        ctx.moveTo(a.right, py);
        ctx.lineTo(a.right - len, py);
      }
    }
    ctx.stroke();
    // frame
    ctx.lineWidth = 1.5;
    ctx.strokeRect(a.left, a.top, a.right - a.left, a.bottom - a.top);
    // y tick labels
    ctx.fillStyle = '#111';
    ctx.textBaseline = 'alphabetic';
    yMajorTicks.forEach((v, i) => {
      const py = ys.getPixelForValue(v);
      ctx.font = `8.5px ${FONT}`;
      const ew = ctx.measureText(yTickExponents[i]).width;
      ctx.textAlign = 'right';
      ctx.fillText(yTickExponents[i], a.left - 3.5, py - 1);
      ctx.font = `12.5px ${FONT}`;
      ctx.fillText('10', a.left - 4 - ew, py + 4.5);
    });
    // x tick labels + title
    if (o.xLabels) {
      ctx.font = `11.5px ${FONT}`;
      ctx.textAlign = 'center';
      ctx.textBaseline = 'middle';
      xMajorTicks.forEach((v, i) => {
        ctx.fillText(xTickLabels[i], xs.getPixelForValue(v), a.bottom + 12);
      });
      ctx.font = `14px ${FONT}`;
      ctx.fillText('Epeak (keV)', (a.left + a.right) / 2, a.bottom + 24);
    }
    if (o.yTitle) {
      ctx.save();
      ctx.font = `14px ${FONT}`;
      ctx.textAlign = 'center';
      ctx.textBaseline = 'middle';
      ctx.translate(a.left - 34, a.bottom);
      ctx.rotate(-Math.PI / 2);
      ctx.fillText('Energy Fluence (erg/cm^2)', 0, 0);
      ctx.restore();
    }
    ctx.restore();
  },
};

function Panel({ cfg }: { cfg: any }) {
  const ref = useRef<HTMLCanvasElement>(null);
  useEffect(() => {
    const chart = new Chart(ref.current as HTMLCanvasElement, {
      type: 'scatter',
      data: {
        datasets: [
          lineDataset(amatiUpper, true),
          lineDataset(amatiCenter, false),
          lineDataset(amatiLower, true),
          lineDataset(ghirlandaUpper, true),
          lineDataset(ghirlandaCenter, false),
          lineDataset(ghirlandaLower, true),
          {
            data: errorBarData(cfg.data),
            showLine: true,
            spanGaps: false,
            borderColor: '#000',
            borderWidth: 1.1,
            pointRadius: 0,
            fill: false,
          } as any,
        ],
      },
      options: {
        animation: false,
        responsive: false,
        events: [],
        layout: {
          padding: {
            left: cfg.left,
            top: cfg.top,
            right: CANVAS_W - cfg.right,
            bottom: CANVAS_H - cfg.bottom,
          },
        },
        plugins: {
          legend: { display: false },
          tooltip: { enabled: false },
          decor: { xLabels: cfg.xLabels, yTitle: cfg.yTitle },
        } as any,
        scales: {
          x: { type: 'logarithmic', min: X_MIN, max: X_MAX, display: false },
          y: { type: 'logarithmic', min: Y_MIN, max: Y_MAX, display: false },
        },
      },
      plugins: [decorPlugin],
    });
    return () => chart.destroy();
  }, []);
  return (
    <canvas
      ref={ref}
      width={CANVAS_W}
      height={CANVAS_H}
      style={{ position: 'absolute', left: 0, top: 0, width: CANVAS_W, height: CANVAS_H }}
    />
  );
}

const captionStyle: React.CSSProperties = {
  position: 'absolute',
  top: 579,
  font: '17px "Liberation Serif", "Times New Roman", serif',
  lineHeight: '20px',
  whiteSpace: 'nowrap',
  color: '#111',
};

export default function App() {
  return (
    <div style={{ position: 'absolute', left: 0, top: 0, width: 766, height: 608, overflow: 'hidden', background: '#fff' }}>
      {panels.map((p) => (
        <Panel key={p.key} cfg={p} />
      ))}
      <div style={{ ...captionStyle, left: 65 }}>
        (a)&nbsp; BATSE <i>E<sub style={{ fontSize: '0.75em', lineHeight: 0 }}>peak</sub></i> vs. Fluence
      </div>
      <div style={{ ...captionStyle, left: 432 }}>
        (b)&nbsp; GBM <i>E<sub style={{ fontSize: '0.75em', lineHeight: 0 }}>peak</sub></i> vs. Fluence
      </div>
    </div>
  );
}
